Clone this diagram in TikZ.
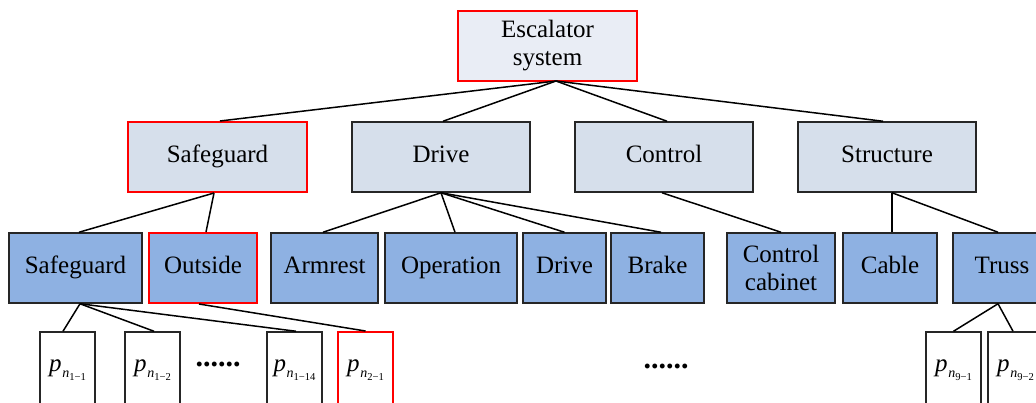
\documentclass[tikz,border=0pt]{standalone}
\usepackage{fontspec}
\setmainfont{Liberation Serif}
\definecolor{cone}{HTML}{E9EDF5}
\definecolor{ctwo}{HTML}{D6DFEB}
\definecolor{cthree}{HTML}{8EB1E2}
\definecolor{bordc}{HTML}{262626}
\newcommand\pnode[1]{\textit{p}\kern0.3pt\raisebox{-0.55ex}{\fontsize{7}{7}\selectfont\textit{n}\raisebox{-0.4ex}{\fontsize{5.3}{5.3}\selectfont #1}}}
\tikzset{
  box/.style={draw=bordc, line width=0.75pt, inner sep=0pt, align=center,
    font=\fontsize{12.5}{14}\selectfont, minimum height=35pt},
  one/.style={text height=0.72em, text depth=0.22em},
  lone/.style={box, fill=cone},
  ltwo/.style={box, one, fill=ctwo},
  lthree/.style={box, fill=cthree},
  leaf/.style={box, fill=white, minimum height=38pt, minimum width=27.5pt},
  hl/.style={draw=red, line width=1pt},
  conn/.style={draw=black, line width=0.75pt},
  dots/.style={inner sep=0pt, font=\fontsize{15}{15}\selectfont\bfseries},
}
\begin{document}
\begin{tikzpicture}[x=0.5pt, y=-0.5pt]
\useasboundingbox (0,0) rectangle (1036,402);
\clip (0,0) rectangle (1036,402);
% level 1
\node[lone, hl, minimum width=89.5pt] (esc) at (547.5,46) {Escalator\\system};
\coordinate (escA) at (556,81);
% level 2
\node[ltwo, hl, minimum width=89.5pt] (sgA) at (217.5,157) {Safeguard};
\node[ltwo, minimum width=89pt] (drA) at (441,157) {Drive};
\node[ltwo, minimum width=89pt] (ctA) at (664,157) {Control};
\node[ltwo, minimum width=89pt] (stA) at (887,157) {Structure};
% level 3
\node[lthree, one, minimum width=66.5pt] (sgB) at (75.5,268) {Safeguard};
\node[lthree, one, hl, minimum width=54pt] (ouB) at (203,268) {Outside};
\node[lthree, one, minimum width=53.5pt] (arB) at (324.5,268) {Armrest};
\node[lthree, one, minimum width=66pt] (opB) at (451,268) {Operation};
\node[lthree, one, minimum width=41.5pt] (drB) at (564.5,268) {Drive};
\node[lthree, one, minimum width=46.5pt] (brB) at (657.5,268) {Brake};
\node[lthree, minimum width=54pt] (ccB) at (781,268) {Control\\cabinet};
\node[lthree, one, minimum width=47pt] (caB) at (890,268) {Cable};
\node[lthree, one, minimum width=49pt] (trB) at (1002,268) {Truss};
% level 4
\node[leaf] (pa) at (67.5,370) {\pnode{1−1}};
\node[leaf] (pb) at (152.5,370) {\pnode{1−2}};
\node[leaf] (pc) at (294.5,370) {\pnode{1−14}};
\node[leaf, hl] (pd) at (365.5,370) {\pnode{2−1}};
\node[leaf] (pe) at (953.5,370) {\pnode{9−1}};
\node[leaf] (pf) at (1015.5,370) {\pnode{9−2}};
\node[dots] (dl) at (218,364) {......};
\node[dots] (dm) at (666,366) {......};
% connectors level 1-2
\draw[conn] (escA) -- ([xshift=1.25pt]sgA.north);
\draw[conn] (escA) -- ([xshift=1pt]drA.north);
\draw[conn] (escA) -- ([xshift=1.5pt]ctA.north);
\draw[conn] (escA) -- ([xshift=-2pt]stA.north);
% level 2-3
\draw[conn] ([xshift=-1.75pt]sgA.south) -- ([xshift=1.75pt]sgB.north);
\draw[conn] ([xshift=-1.75pt]sgA.south) -- ([xshift=1.5pt]ouB.north);
\draw[conn] (drA.south) -- ([xshift=-0.75pt]arB.north);
\draw[conn] (drA.south) -- ([xshift=2pt]opB.north);
\draw[conn] (drA.south) -- (drB.north);
\draw[conn] (drA.south) -- ([xshift=1.75pt]brB.north);
\draw[conn] ([xshift=-1pt]ctA.south) -- (ccB.north);
\draw[conn] ([xshift=2.5pt]stA.south) -- ([xshift=1pt]caB.north);
\draw[conn] ([xshift=2.5pt]stA.south) -- ([xshift=-2pt]trB.north);
% level 3-4
\draw[conn] ([xshift=2.25pt]sgB.south) -- ([xshift=-2.25pt]pa.north);
\draw[conn] ([xshift=2.25pt]sgB.south) -- ([xshift=0.75pt]pb.north);
\draw[conn] ([xshift=2.25pt]sgB.south) -- ([xshift=0.75pt]pc.north);
\draw[conn] ([xshift=-2pt]ouB.south) -- (pd.north);
\draw[conn] ([xshift=-2pt]trB.south) -- (pe.north);
\draw[conn] ([xshift=-2pt]trB.south) -- ([xshift=-1.25pt]pf.north);
\end{tikzpicture}
\end{document}
